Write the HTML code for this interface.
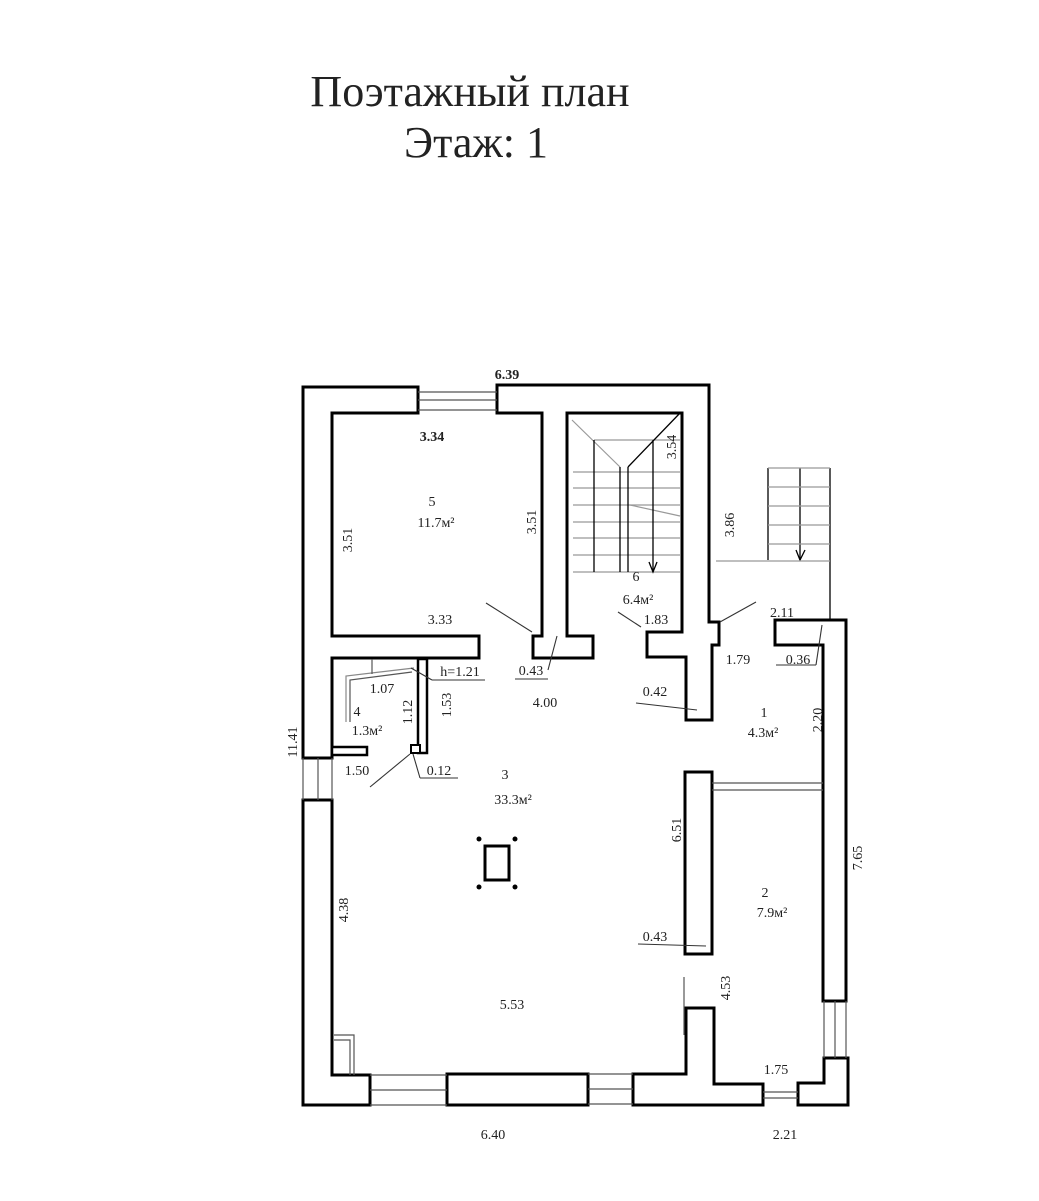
<!DOCTYPE html>
<html><head><meta charset="utf-8"><style>
html,body{margin:0;padding:0;background:#fff;}
svg{display:block;}
text{font-family:"Liberation Serif",serif;fill:#222;}
</style></head><body>
<svg width="1039" height="1201" viewBox="0 0 1039 1201" xmlns="http://www.w3.org/2000/svg">
<rect width="1039" height="1201" fill="#fff"/>
<text x="470" y="106" font-size="44" text-anchor="middle" fill="#555">Поэтажный план</text>
<text x="476" y="157" font-size="44" text-anchor="middle" fill="#555">Этаж: 1</text>

<g fill="#fff" stroke="#000" stroke-width="3" stroke-linejoin="miter">
<polygon points="303,387 418,387 418,413 332,413 332,636 479,636 479,658 332,658 332,758 303,758"/>
<polygon points="497,385 709,385 709,622 719,622 719,645 712,645 712,720 686,720 686,657 647,657 647,632 682,632 682,413 567,413 567,636 593,636 593,658 533,658 533,636 542,636 542,413 497,413"/>
<polygon points="775,620 846,620 846,1001 823,1001 823,645 775,645"/>
<polygon points="824,1058 848,1058 848,1105 798,1105 798,1083 824,1083"/>
<polygon points="633,1074 686,1074 686,1008 714,1008 714,1084 763,1084 763,1105 633,1105"/>
<rect x="447" y="1074" width="141" height="31"/>
<polygon points="303,800 332,800 332,1075 370,1075 370,1105 303,1105"/>
<rect x="685" y="772" width="27" height="182"/>
<rect x="485" y="846" width="24" height="34"/>
<rect x="418" y="659" width="9" height="94" stroke-width="2.5"/>
<rect x="332" y="747" width="35" height="8" stroke-width="2.5"/>
<rect x="411" y="745" width="9" height="8" stroke-width="2"/>
</g>

<g stroke="#555" stroke-width="1.2" fill="none">
<line x1="418" y1="392" x2="497" y2="392"/><line x1="418" y1="400" x2="497" y2="400"/><line x1="418" y1="410" x2="497" y2="410"/>
<line x1="303" y1="758" x2="303" y2="800"/><line x1="318" y1="758" x2="318" y2="800"/><line x1="332" y1="758" x2="332" y2="800"/>
<line x1="370" y1="1075" x2="447" y2="1075"/><line x1="370" y1="1090" x2="447" y2="1090"/><line x1="370" y1="1105" x2="447" y2="1105"/>
<line x1="588" y1="1074" x2="633" y2="1074"/><line x1="588" y1="1089" x2="633" y2="1089"/><line x1="588" y1="1104" x2="633" y2="1104"/>
<line x1="763" y1="1092" x2="798" y2="1092"/><line x1="763" y1="1098" x2="798" y2="1098"/>
<line x1="824" y1="1001" x2="824" y2="1058"/><line x1="835" y1="1001" x2="835" y2="1058"/><line x1="846" y1="1001" x2="846" y2="1058"/>
<line x1="712" y1="783" x2="823" y2="783"/><line x1="712" y1="790" x2="823" y2="790"/>
<polyline points="334,1035 354,1035 354,1075"/><polyline points="334,1040 350,1040 350,1075"/>
<line x1="684" y1="977" x2="684" y2="1035"/>
<polyline points="350,722 350,680 412,672"/><polyline points="346,722 346,676 414,668" stroke="#888"/>
<line x1="372" y1="659" x2="372" y2="674"/>
</g>
<g fill="#000"><circle cx="479" cy="839" r="2.5"/><circle cx="515" cy="839" r="2.5"/><circle cx="479" cy="887" r="2.5"/><circle cx="515" cy="887" r="2.5"/></g>

<g stroke="#999" stroke-width="1.2">
<line x1="573" y1="472" x2="680" y2="472"/><line x1="573" y1="488" x2="680" y2="488"/><line x1="573" y1="505" x2="680" y2="505"/><line x1="573" y1="522" x2="680" y2="522"/><line x1="573" y1="538" x2="680" y2="538"/><line x1="573" y1="555" x2="680" y2="555"/><line x1="573" y1="572" x2="680" y2="572"/>
<line x1="594" y1="440" x2="680" y2="440"/>
<line x1="572" y1="420" x2="620" y2="467"/>
<line x1="630" y1="505" x2="680" y2="516"/>
</g>
<g stroke="#000" stroke-width="1.3" fill="none">
<line x1="594" y1="440" x2="594" y2="572"/><line x1="620" y1="467" x2="620" y2="572"/><line x1="628" y1="467" x2="628" y2="572"/>
<line x1="653" y1="440" x2="653" y2="572"/><polyline points="649,562 653,572 657,562"/>
<line x1="681" y1="412" x2="628" y2="467"/>
<line x1="768" y1="468" x2="768" y2="560"/><line x1="800" y1="468" x2="800" y2="560"/><line x1="830" y1="468" x2="830" y2="620"/>
<polyline points="796,550 800,560 805,550"/>
</g>
<g stroke="#999" stroke-width="1.2">
<line x1="768" y1="468" x2="830" y2="468"/><line x1="768" y1="487" x2="830" y2="487"/><line x1="768" y1="506" x2="830" y2="506"/><line x1="768" y1="525" x2="830" y2="525"/><line x1="768" y1="544" x2="830" y2="544"/><line x1="716" y1="561" x2="830" y2="561"/>
</g>
<g stroke="#333" stroke-width="1.1" fill="none">
<line x1="486" y1="603" x2="532" y2="632"/><line x1="557" y1="636" x2="548" y2="670"/><line x1="515" y1="679" x2="548" y2="679"/>
<line x1="618" y1="612" x2="641" y2="627"/>
<line x1="720" y1="622" x2="756" y2="602"/>
<line x1="822" y1="625" x2="816" y2="665"/><line x1="776" y1="665" x2="816" y2="665"/>
<line x1="636" y1="703" x2="697" y2="710"/>
<line x1="432" y1="680" x2="485" y2="680"/><line x1="411" y1="668" x2="432" y2="680"/>
<line x1="370" y1="787" x2="410" y2="754"/><line x1="413" y1="754" x2="420" y2="778"/><line x1="420" y1="778" x2="458" y2="778"/>
<line x1="638" y1="944" x2="706" y2="946"/>
</g>

<g font-size="14" text-anchor="middle">
<text x="507" y="379" font-weight="bold">6.39</text>
<text x="432" y="441" font-weight="bold">3.34</text>
<text x="432" y="506">5</text>
<text x="436" y="527">11.7м²</text>
<text x="440" y="624">3.33</text>
<text x="531" y="675">0.43</text>
<text x="460" y="676">h=1.21</text>
<text x="545" y="707">4.00</text>
<text x="382" y="693">1.07</text>
<text x="357" y="716">4</text>
<text x="367" y="735">1.3м²</text>
<text x="357" y="775">1.50</text>
<text x="439" y="775">0.12</text>
<text x="505" y="779">3</text>
<text x="513" y="804">33.3м²</text>
<text x="765" y="897">2</text>
<text x="772" y="917">7.9м²</text>
<text x="655" y="941">0.43</text>
<text x="512" y="1009">5.53</text>
<text x="776" y="1074">1.75</text>
<text x="493" y="1139">6.40</text>
<text x="785" y="1139">2.21</text>
<text x="764" y="717">1</text>
<text x="763" y="737">4.3м²</text>
<text x="738" y="664">1.79</text>
<text x="798" y="664">0.36</text>
<text x="782" y="617">2.11</text>
<text x="655" y="696">0.42</text>
<text x="636" y="581">6</text>
<text x="638" y="604">6.4м²</text>
<text x="656" y="624">1.83</text>
<text transform="translate(352,540) rotate(-90)">3.51</text>
<text transform="translate(536,522) rotate(-90)">3.51</text>
<text transform="translate(412,712) rotate(-90)">1.12</text>
<text transform="translate(451,705) rotate(-90)">1.53</text>
<text transform="translate(297,742) rotate(-90)">11.41</text>
<text transform="translate(681,830) rotate(-90)">6.51</text>
<text transform="translate(348,910) rotate(-90)">4.38</text>
<text transform="translate(730,988) rotate(-90)">4.53</text>
<text transform="translate(862,858) rotate(-90)">7.65</text>
<text transform="translate(822,720) rotate(-90)">2.20</text>
<text transform="translate(734,525) rotate(-90)" fill="#666">3.86</text>
<text transform="translate(676,447) rotate(-90)" fill="#666">3.54</text>
</g>
</svg>
</body></html>
